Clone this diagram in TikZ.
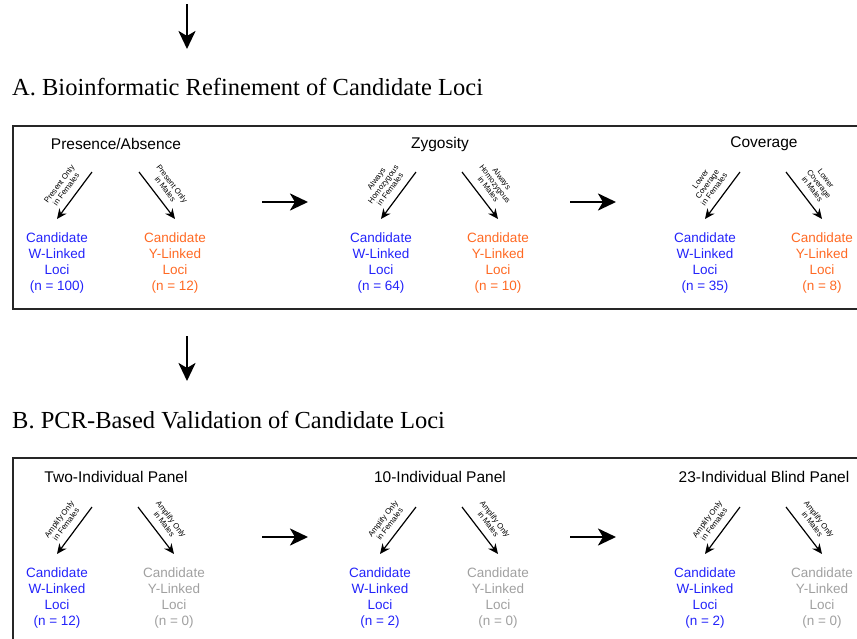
\documentclass[tikz,border=0pt]{standalone}
\usepackage{fontspec}
\setmainfont{Liberation Serif}
\setsansfont{Liberation Sans}
\usetikzlibrary{arrows.meta, positioning}

\definecolor{wblue}{RGB}{35,35,250}
\definecolor{yorange}{RGB}{255,105,35}
\definecolor{nogray}{RGB}{160,160,160}

\begin{document}
\begin{tikzpicture}[
    x=1pt, y=-1pt,
    parttitle/.style={anchor=base west, inner sep=0pt, font=\rmfamily\fontsize{24.5}{28}\selectfont},
    frame/.style={draw=black!85, line width=1.8pt, anchor=north west, minimum width=900pt, minimum height=183pt, inner sep=0pt},
    stage/.style={font=\sffamily\fontsize{15.5}{18}\selectfont},
    loci/.style={align=center, inner xsep=2pt, inner ysep=14pt, font=\sffamily\fontsize{13.5}{15.7}\selectfont},
    note/.style={sloped, above=6pt, align=center, inner sep=1pt, font=\sffamily\fontsize{7.8}{8.6}\selectfont},
    pick/.style={-{Stealth[length=10pt, width=9pt]}, line width=1.2pt},
    flow/.style={-{Stealth[length=18pt, width=17pt, inset=5pt]}, line width=2.8pt}
]

    \useasboundingbox (0,0) rectangle (857,638);

    % A. Bioinformatic refinement
    \coordinate (inA) at (187,4);
    \coordinate (outA) at (187,49);
    \draw[flow] (inA) -- (outA);
    \node[parttitle] (titleA) at (12,95) {A. Bioinformatic Refinement of Candidate Loci};
    \node[frame] (boxA) at (12,125) {};

    \node[stage] (presence) at (116,144) {Presence/Absence};
    \node[stage] (zygosity) at (440,144) {Zygosity};
    \node[stage] (coverage) at (764,144) {Coverage};

    \node[loci, text=wblue] (wA1) at (57,263) {Candidate\\W-Linked\\Loci\\(n = 100)};
    \node[loci, text=yorange] (yA1) at (175,263) {Candidate\\Y-Linked\\Loci\\(n = 12)};
    \node[loci, text=wblue] (wA2) at (381,263) {Candidate\\W-Linked\\Loci\\(n = 64)};
    \node[loci, text=yorange] (yA2) at (498,263) {Candidate\\Y-Linked\\Loci\\(n = 10)};
    \node[loci, text=wblue] (wA3) at (705,263) {Candidate\\W-Linked\\Loci\\(n = 35)};
    \node[loci, text=yorange] (yA3) at (822,263) {Candidate\\Y-Linked\\Loci\\(n = 8)};

    \coordinate (wA1s) at (92,172);
    \coordinate (yA1s) at (139,172);
    \coordinate (wA2s) at (416,172);
    \coordinate (yA2s) at (462,172);
    \coordinate (wA3s) at (740,172);
    \coordinate (yA3s) at (786,172);
    \draw[pick] (wA1s) -- node[note] {Present Only\\in Females} (wA1.north);
    \draw[pick] (yA1s) -- node[note] {Present Only\\in Males} (yA1.north);
    \draw[pick] (wA2s) -- node[note] {Always\\Homozygous\\in Females} (wA2.north);
    \draw[pick] (yA2s) -- node[note] {Always\\Homozygous\\in Males} (yA2.north);
    \draw[pick] (wA3s) -- node[note] {Lower\\Coverage\\in Females} (wA3.north);
    \draw[pick] (yA3s) -- node[note] {Lower\\Coverage\\in Males} (yA3.north);

    \coordinate (a12s) at (262,202);
    \coordinate (a12e) at (308,202);
    \coordinate (a23s) at (570,202);
    \coordinate (a23e) at (616,202);
    \draw[flow] (a12s) -- (a12e);
    \draw[flow] (a23s) -- (a23e);

    % B. PCR-based validation
    \coordinate (inB) at (187,336);
    \coordinate (outB) at (187,381);
    \draw[flow] (inB) -- (outB);
    \node[parttitle] (titleB) at (12,428) {B. PCR-Based Validation of Candidate Loci};
    \node[frame] (boxB) at (12,457) {};

    \node[stage] (twopanel) at (116,477) {Two-Individual Panel};
    \node[stage] (tenpanel) at (440,477) {10-Individual Panel};
    \node[stage] (blindpanel) at (764,477) {23-Individual Blind Panel};

    \node[loci, text=wblue] (wB1) at (57,598) {Candidate\\W-Linked\\Loci\\(n = 12)};
    \node[loci, text=nogray] (yB1) at (174,598) {Candidate\\Y-Linked\\Loci\\(n = 0)};
    \node[loci, text=wblue] (wB2) at (380,598) {Candidate\\W-Linked\\Loci\\(n = 2)};
    \node[loci, text=nogray] (yB2) at (498,598) {Candidate\\Y-Linked\\Loci\\(n = 0)};
    \node[loci, text=wblue] (wB3) at (705,598) {Candidate\\W-Linked\\Loci\\(n = 2)};
    \node[loci, text=nogray] (yB3) at (822,598) {Candidate\\Y-Linked\\Loci\\(n = 0)};

    \coordinate (wB1s) at (92,507);
    \coordinate (yB1s) at (138,507);
    \coordinate (wB2s) at (416,507);
    \coordinate (yB2s) at (462,507);
    \coordinate (wB3s) at (740,507);
    \coordinate (yB3s) at (786,507);
    \draw[pick] (wB1s) -- node[note] {Amplify Only\\in Females} (wB1.north);
    \draw[pick] (yB1s) -- node[note] {Amplify Only\\in Males} (yB1.north);
    \draw[pick] (wB2s) -- node[note] {Amplify Only\\in Females} (wB2.north);
    \draw[pick] (yB2s) -- node[note] {Amplify Only\\in Males} (yB2.north);
    \draw[pick] (wB3s) -- node[note] {Amplify Only\\in Females} (wB3.north);
    \draw[pick] (yB3s) -- node[note] {Amplify Only\\in Males} (yB3.north);

    \coordinate (b12s) at (262,537);
    \coordinate (b12e) at (308,537);
    \coordinate (b23s) at (570,537);
    \coordinate (b23e) at (616,537);
    \draw[flow] (b12s) -- (b12e);
    \draw[flow] (b23s) -- (b23e);

\end{tikzpicture}
\end{document}
